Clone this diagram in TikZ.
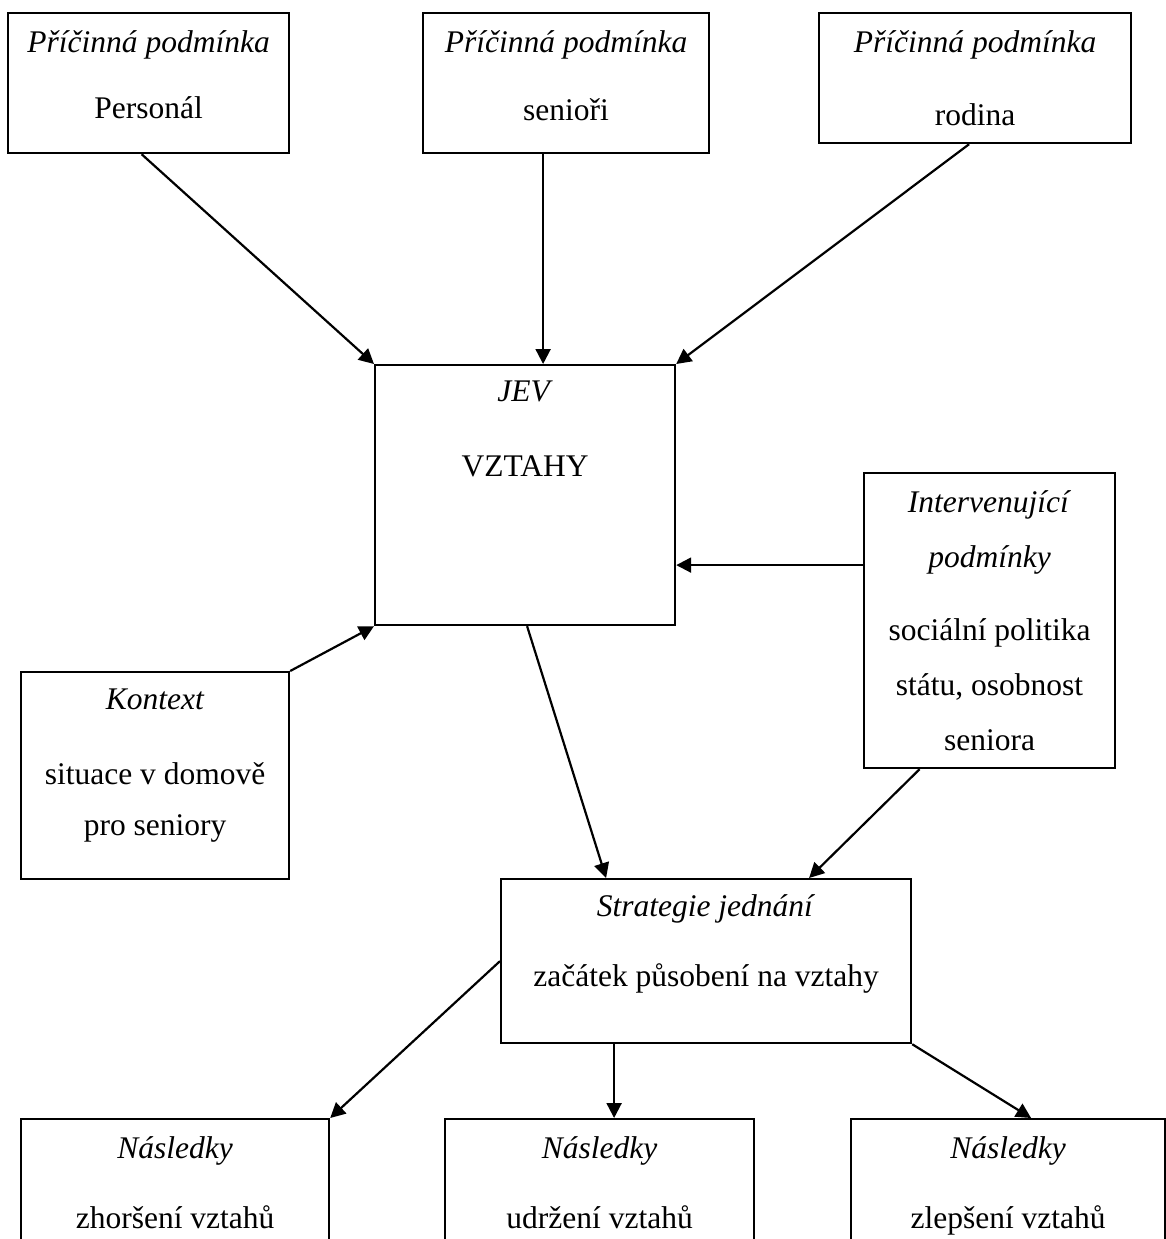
\documentclass[tikz,border=0pt]{standalone}
\usepackage{fontspec}
\setmainfont{Liberation Serif}
\usetikzlibrary{arrows.meta, positioning, calc}
\tikzset{
  modelblock/.style={
    rectangle, draw, line width=2.2pt, anchor=north west, inner sep=0pt
  },
  modeltext/.style={
    align=center, inner sep=0pt, font=\fontsize{31.5}{55}\selectfont
  },
  modelarrow/.style={
    line width=2.2pt, -{Triangle[length=15pt, width=15pt]}
  }
}
\newcommand{\modelhead}[2][18pt]{\textit{#2}\\[#1]}

\begin{document}
\begin{tikzpicture}[x=1pt, y=-1pt]
  \useasboundingbox (0,0) rectangle (1165,1239);

  % causal conditions
  \node[modelblock, minimum width=281pt, minimum height=140pt] (causeStaff) at (7,12) {};
  \node[modelblock, minimum width=286pt, minimum height=140pt] (causeSeniors) at (422,12) {};
  \node[modelblock, minimum width=312pt, minimum height=130pt] (causeFamily) at (818,12) {};
  \node[modeltext, below=18pt of causeStaff.north] (causeStaffText) {\modelhead[11pt]{Příčinná podmínka}Personál};
  \node[modeltext, below=18pt of causeSeniors.north] (causeSeniorsText) {\modelhead[13pt]{Příčinná podmínka}senioři};
  \node[modeltext, below=18pt of causeFamily.north] (causeFamilyText) {\modelhead{Příčinná podmínka}rodina};

  % phenomenon, context, intervening conditions
  \node[modelblock, minimum width=300pt, minimum height=260pt] (phenomenon) at (374,364) {};
  \node[modeltext, below=17pt of phenomenon.north] (phenomenonText) {\modelhead[20pt]{JEV}VZTAHY};
  \node[modelblock, minimum width=251pt, minimum height=295pt] (intervening) at (863,472) {};
  \node[modeltext, below=18pt of intervening.north] (interveningText)
    {\textit{Intervenující}\\\modelhead{podmínky}sociální politika\\státu, osobnost\\seniora};
  \node[modelblock, minimum width=268pt, minimum height=207pt] (context) at (20,671) {};
  \node[modeltext, below=18pt of context.north] (contextText)
    {\modelhead[20pt]{Kontext}situace v domově\\[-4pt]pro seniory};

  % strategy
  \node[modelblock, minimum width=410pt, minimum height=164pt] (strategy) at (500,878) {};
  \node[modeltext, below=16pt of strategy.north] (strategyText)
    {\modelhead[15pt]{Strategie jednání}začátek působení na vztahy};

  % consequences
  \node[modelblock, minimum width=308pt, minimum height=200pt] (outWorse) at (20,1118) {};
  \node[modelblock, minimum width=309pt, minimum height=200pt] (outKeep) at (444,1118) {};
  \node[modelblock, minimum width=314pt, minimum height=200pt] (outBetter) at (850,1118) {};
  \node[modeltext, below=18pt of outWorse.north] (outWorseText) {\modelhead[15pt]{Následky}zhoršení vztahů};
  \node[modeltext, below=18pt of outKeep.north] (outKeepText) {\modelhead[15pt]{Následky}udržení vztahů};
  \node[modeltext, below=18pt of outBetter.north] (outBetterText) {\modelhead[15pt]{Následky}zlepšení vztahů};

  \coordinate (jevTop) at ([xshift=18pt]phenomenon.north);
  \coordinate (jevRight) at ([yshift=-70pt]phenomenon.east);
  \coordinate (stratDown) at ([xshift=-92pt]strategy.south);

  \draw[modelarrow] ([xshift=-7pt]causeStaff.south) -- (phenomenon.north west);
  \draw[modelarrow] (causeSeniors.south -| jevTop) -- (jevTop);
  \draw[modelarrow] ([xshift=-6pt]causeFamily.south) -- (phenomenon.north east);
  \draw[modelarrow] (intervening.west |- jevRight) -- (jevRight);
  \draw[modelarrow] (context.north east) -- (phenomenon.south west);
  \draw[modelarrow] ([xshift=2pt]phenomenon.south) -- ([xshift=-100pt]strategy.north);
  \draw[modelarrow] ([xshift=-70pt]intervening.south) -- ([xshift=103pt]strategy.north);
  \draw[modelarrow] (strategy.west) -- (outWorse.north east);
  \draw[modelarrow] (stratDown) -- (stratDown |- outKeep.north);
  \draw[modelarrow] (strategy.south east) -- ([xshift=23pt]outBetter.north);
\end{tikzpicture}
\end{document}
